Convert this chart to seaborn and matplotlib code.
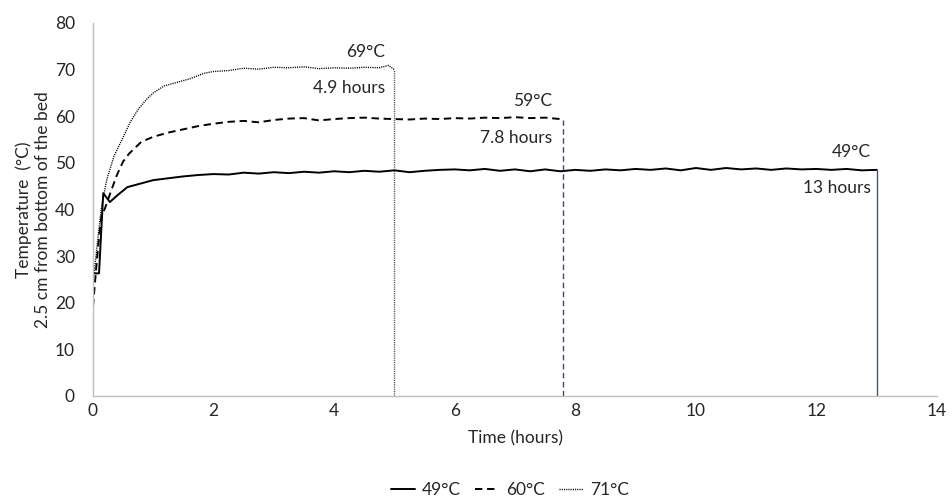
import numpy as np
import pandas as pd
import matplotlib
matplotlib.use("Agg")
import matplotlib.pyplot as plt
import seaborn as sns

# --- data ---
t_49 = [0, 0.05, 0.1, 0.17, 0.28, 0.4, 0.57, 0.8, 1.0] + list(np.round(np.arange(1.25, 13.01, 0.25), 2))
temp_49 = [26.4, 26.3, 26.3, 43.5, 41.6, 43.0, 44.8, 45.6, 46.3,
           46.7, 47.1, 47.4, 47.6, 47.5, 47.9, 47.7, 48.0, 47.8, 48.1, 47.9, 48.2,
           48.0, 48.3, 48.1, 48.4, 48.0, 48.3, 48.5, 48.6, 48.4, 48.7, 48.3, 48.6,
           48.2, 48.6, 48.2, 48.5, 48.3, 48.6, 48.4, 48.7, 48.5, 48.8, 48.4, 48.9,
           48.5, 48.9, 48.6, 48.8, 48.5, 48.8, 48.6, 48.7, 48.5, 48.7, 48.4, 48.5]

t_60 = [0, 0.05, 0.1, 0.14, 0.2, 0.3, 0.4, 0.5, 0.6, 0.8, 1.0] + list(np.round(np.arange(1.25, 7.76, 0.25), 2)) + [7.8]
temp_60 = [19.2, 27.0, 34.0, 38.5, 40.3, 44.0, 47.5, 50.3, 52.0, 54.5, 55.6,
           56.5, 57.2, 57.9, 58.4, 58.8, 59.0, 58.7, 59.2, 59.5, 59.6, 59.1, 59.4,
           59.6, 59.7, 59.5, 59.4, 59.3, 59.5, 59.4, 59.6, 59.5, 59.7, 59.6, 59.8,
           59.6, 59.7, 59.4, 59.3]

t_71 = [0, 0.05, 0.1, 0.14, 0.23, 0.35, 0.5, 0.62, 0.75, 0.9, 1.0, 1.18, 1.4, 1.6, 1.84] + list(np.round(np.arange(2.0, 4.76, 0.25), 2)) + [4.9, 5.0]
temp_71 = [24.5, 30.0, 36.0, 40.5, 46.5, 51.5, 55.5, 58.8, 61.5, 63.8, 65.0, 66.5, 67.3, 68.0, 69.2,
           69.6, 69.8, 70.3, 70.1, 70.5, 70.4, 70.6, 70.2, 70.4, 70.3, 70.5, 70.4,
           70.9, 70.0]

labels = ["49°C", "60°C", "71°C"]
end_time = [13.0, 7.8, 5.0]
end_labels = ["49°C", "59°C", "69°C"]
duration_labels = ["13 hours", "7.8 hours", "4.9 hours"]

frames = []
for lab, t, v in zip(labels, [t_49, t_60, t_71], [temp_49, temp_60, temp_71]):
    frames.append(pd.DataFrame({"time": t, "temp": v, "series": lab}))
df = pd.concat(frames, ignore_index=True)

sns.set_theme(style="white")
plt.rcParams["font.family"] = ["Lato", "DejaVu Sans"]
fs = 12.5

fig = plt.figure(figsize=(9.52, 5.0), dpi=100)
ax = fig.add_axes([93 / 952, 1 - 396 / 500, (937 - 93) / 952, (396 - 23) / 500])

styles = {"49°C": "-", "60°C": (0, (3.8, 2.4)), "71°C": (0, (0.8, 0.8))}
widths = {"49°C": 1.4, "60°C": 1.4, "71°C": 1.0}
handles = []
for lab in labels:
    sub = df[df["series"] == lab]
    sns.lineplot(data=sub, x="time", y="temp", ax=ax, color="black",
                 linestyle=styles[lab], linewidth=widths[lab], estimator=None, sort=False)
    handles.append(ax.lines[-1])

# vertical end markers
vstyles = ["-", (0, (4, 2.5)), (0, (0.8, 0.8))]
vcolors = ["#44546A", "#3B4A66", "#3B4A66"]
for i, (lab, te) in enumerate(zip(labels, end_time)):
    sub = df[df["series"] == lab]
    top = sub["temp"].iloc[-1]
    ax.plot([te, te], [0, top], color=vcolors[i], linestyle=vstyles[i], linewidth=1.0)

# annotations
ann_x = [12.9, 7.62, 4.85]
ann_y_top = [52.4, 63.3, 73.8]
ann_y_bot = [44.6, 55.4, 66.0]
for i in range(3):
    ax.text(ann_x[i], ann_y_top[i], end_labels[i], ha="right", va="center", fontsize=fs)
    ax.text(ann_x[i], ann_y_bot[i], duration_labels[i], ha="right", va="center", fontsize=fs)

ax.set_xlim(0, 14)
ax.set_ylim(0, 80)
ax.set_xticks(range(0, 15, 2))
ax.set_yticks(range(0, 81, 10))
ax.set_xlabel("Time (hours)", fontsize=fs, labelpad=8)
ax.set_ylabel("Temperature  (°C)\n2.5 cm from bottom of the bed", fontsize=fs, labelpad=3)
ax.tick_params(axis="y", length=0, labelsize=fs, pad=13)
ax.tick_params(axis="x", length=0, labelsize=fs, pad=5)
for side in ["top", "right"]:
    ax.spines[side].set_visible(False)
for side in ["left", "bottom"]:
    ax.spines[side].set_color("#BFBFBF")
    ax.spines[side].set_linewidth(1.0)

fig.legend(handles, labels, loc="center", ncol=3, frameon=False,
           bbox_to_anchor=(510 / 952, 1 - 490 / 500), fontsize=fs, handlelength=1.4,
           handletextpad=0.4, columnspacing=0.8)

fig.savefig("out.png", dpi=100)
